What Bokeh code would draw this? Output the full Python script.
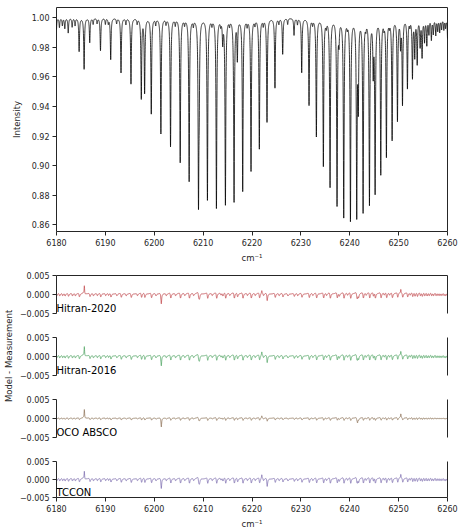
import numpy as np
from bokeh.plotting import figure
from bokeh.layouts import column, row
from bokeh.models import Range1d, FixedTicker, LinearAxis, Label, CustomJSTickFormatter
from bokeh.embed import file_html
from bokeh.resources import INLINE

# ---------------- data ----------------
# strong CO2 band lines: centre (cm-1) and minimum intensity
line_pos = [6184.63, 6185.65, 6189.00, 6191.09, 6193.20, 6195.24, 6197.35, 6198.03,
            6199.39, 6201.36, 6203.33, 6205.31, 6207.14, 6209.05, 6210.88, 6212.72,
            6214.56, 6216.33, 6218.10, 6219.80, 6221.50, 6223.07, 6224.70, 6226.28,
            6230.17, 6231.67, 6233.17, 6234.60, 6235.97, 6237.40, 6238.77, 6240.14,
            6241.43, 6242.73, 6244.03, 6245.19, 6246.35, 6247.50, 6248.67, 6249.76,
            6250.79, 6251.80, 6252.83, 6253.80, 6254.80, 6255.77, 6256.70, 6257.60,
            6258.40, 6259.25]
line_min = [0.9775, 0.9655, 0.9780, 0.9720, 0.9630, 0.9555, 0.9460, 0.9500,
            0.9355, 0.9220, 0.9134, 0.9027, 0.8900, 0.8810, 0.8775, 0.8720,
            0.8745, 0.8765, 0.8835, 0.8970, 0.9120, 0.9300, 0.9530, 0.9758,
            0.9634, 0.9414, 0.9204, 0.9006, 0.8865, 0.8744, 0.8663, 0.8640,
            0.8690, 0.8700, 0.8753, 0.8838, 0.8955, 0.9073, 0.9185, 0.9316,
            0.9428, 0.9533, 0.9605, 0.9700, 0.9747, 0.9825, 0.9860, 0.9890,
            0.9910, 0.9926]
# weak lines (hot bands / isotopologues)
weak_pos = [6179.95, 6180.60, 6181.20, 6181.70, 6182.40, 6183.20, 6183.80, 6186.80,
            6187.50, 6188.30, 6190.00, 6190.60, 6192.30, 6194.20, 6196.50, 6200.30,
            6202.40, 6204.30, 6206.20, 6208.00, 6209.20, 6211.80, 6213.60, 6214.00,
            6215.40, 6217.00, 6219.00, 6220.60, 6222.30, 6225.50, 6227.30, 6228.60,
            6229.30, 6232.40, 6235.20, 6237.80, 6239.50, 6241.75, 6243.30, 6244.80,
            6247.00, 6248.10, 6250.40, 6252.30, 6253.30, 6254.40, 6255.30, 6256.20,
            6257.10, 6258.00, 6258.80, 6259.60, 6260.05]
weak_min = [0.9900, 0.9937, 0.9950, 0.9930, 0.9900, 0.9940, 0.9950, 0.9835,
            0.9960, 0.9965, 0.9960, 0.9965, 0.9965, 0.9960, 0.9965, 0.9960,
            0.9965, 0.9960, 0.9965, 0.9960, 0.9580, 0.9965, 0.9965, 0.9850,
            0.9965, 0.9735, 0.9960, 0.9965, 0.9960, 0.9965, 0.9960, 0.9886,
            0.9960, 0.9965, 0.9960, 0.9870, 0.9965, 0.9450, 0.9960, 0.9660,
            0.9960, 0.9965, 0.9825, 0.9960, 0.9750, 0.9820, 0.9850, 0.9900,
            0.9900, 0.9920, 0.9930, 0.9940, 0.9825]

# isolated residual features (position, amplitude per model)
spike_pos = [6185.70, 6201.45, 6222.00, 6223.10, 6241.60, 6250.45]
spike_h2020 = [0.0030, -0.0016, 0.0008, -0.0008, -0.0008, 0.0017]
spike_h2016 = [0.0033, -0.0016, 0.0010, -0.0008, -0.0006, 0.0017]
spike_oco = [0.0027, -0.0018, 0.0006, -0.0003, -0.0010, 0.0014]
spike_tccon = [0.0030, -0.0016, 0.0011, -0.0011, -0.0006, 0.0018]

model_names = ["Hitran-2020", "Hitran-2016", "OCO ABSCO", "TCCON"]
model_colors = ["#C44E52", "#55A868", "#937860", "#8172B3"]
model_sym = [-0.0013, -0.0013, -0.0006, -0.0013]     # symmetric (depth) misfit
model_asym = [0.0009, 0.0009, 0.0005, 0.0010]       # antisymmetric (position) misfit

x_ticks = [6180, 6190, 6200, 6210, 6220, 6230, 6240, 6250, 6260]
y_ticks = [0.86, 0.88, 0.90, 0.92, 0.94, 0.96, 0.98, 1.00]
r_ticks = [-0.005, 0.0, 0.005]

# ---------------- spectrum from the line list ----------------
GAM = 0.09
nu = np.arange(6180.0, 6260.0001, 0.01)
all_pos = np.array(line_pos + weak_pos)
all_tau = -np.log(np.array(line_min + weak_min))
tau = np.zeros_like(nu)
for c, t in zip(all_pos, all_tau):
    tau += t * GAM**2 / ((nu - c) ** 2 + GAM**2)
intensity = np.exp(-tau)

# ---------------- residual shapes from the same line list ----------------
GR = 0.18
nur = np.arange(6180.0, 6260.0001, 0.02)
sym_sum = np.zeros_like(nur)
asym_sum = np.zeros_like(nur)
for c, t in zip(all_pos, all_tau):
    d = nur - c
    w = t ** 0.25
    sym_sum += w * 2.0 * (GR**2 / (d**2 + GR**2) - 0.5 * (2 * GR) ** 2 / (d**2 + (2 * GR) ** 2))
    asym_sum += w * (-2.0 * d * GR**3 / (d**2 + GR**2) ** 2) / 0.6495

spikes = [spike_h2020, spike_h2016, spike_oco, spike_tccon]
residuals = []
for k in range(4):
    r = model_sym[k] * sym_sum + model_asym[k] * asym_sum
    for c, a in zip(spike_pos, spikes[k]):
        r += a * 0.07**2 / ((nur - c) ** 2 + 0.07**2)
    residuals.append(r)

# ---------------- styling helpers ----------------
FONT = "DejaVu Sans"
AX = "#262626"
xr = Range1d(6180, 6260)


def style_axis(ax, fs="8px"):
    ax.major_label_text_font = FONT
    ax.major_label_text_font_size = fs
    ax.major_label_text_color = AX
    ax.axis_label_text_font = FONT
    ax.axis_label_text_font_size = "8.5px"
    ax.axis_label_text_font_style = "normal"
    ax.axis_label_text_color = AX
    ax.major_tick_out = 4
    ax.major_tick_in = 0
    ax.minor_tick_line_color = None
    ax.major_tick_line_color = AX
    ax.axis_line_color = AX
    ax.major_label_standoff = 3


def spine(p, where):
    ax = LinearAxis(ticker=FixedTicker(ticks=[]), axis_line_color=AX,
                    major_tick_line_color=None, minor_tick_line_color=None,
                    major_label_text_font_size="0px")
    p.add_layout(ax, where)


# ---------------- top panel ----------------
top = figure(width=463, height=265, x_range=xr, y_range=Range1d(0.85549, 1.00693),
             output_backend="svg", toolbar_location=None,
             min_border_left=56, min_border_right=16, min_border_top=7, min_border_bottom=33)
top.grid.visible = False
top.outline_line_color = AX
top.outline_line_alpha = 1.0
top.line(nu, intensity, line_color="black", line_width=0.8)
top.xaxis.ticker = FixedTicker(ticks=x_ticks)
top.yaxis.ticker = FixedTicker(ticks=y_ticks)
top.yaxis.formatter = CustomJSTickFormatter(code="return tick.toFixed(2);")
top.xaxis.axis_label = "cm\u207b\u00b9"
top.yaxis.axis_label = "Intensity"
for ax in top.axis:
    style_axis(ax)
    ax.axis_line_color = None
top.yaxis.axis_label_standoff = 7
top.xaxis.axis_label_standoff = 4
top.add_layout(Label(x=6220.3, y=1.0096, text="Weaker CO\u2082 window", text_align="center",
                     text_baseline="alphabetic", text_font=FONT, text_font_size="10px",
                     text_color="black"))

# ---------------- residual panels ----------------
panels = []
for k in range(4):
    last = k == 3
    p = figure(width=450, height=80 if last else 62, x_range=xr, y_range=Range1d(-0.005, 0.005),
               output_backend="svg", toolbar_location=None,
               x_axis_location="below" if last else None,
               min_border_left=43, min_border_right=16, min_border_top=10,
               min_border_bottom=32 if last else 14)
    p.grid.visible = False
    p.outline_line_color = None
    p.line(nur, residuals[k], line_color=model_colors[k], line_width=0.8)
    p.yaxis.ticker = FixedTicker(ticks=r_ticks)
    p.yaxis.formatter = CustomJSTickFormatter(
        code="return tick < -1e-9 ? '\u2212' + Math.abs(tick).toFixed(3) : Math.abs(tick).toFixed(3);")
    for ax in p.axis:
        style_axis(ax)
    if last:
        p.xaxis.ticker = FixedTicker(ticks=x_ticks)
        p.xaxis.axis_label = "cm\u207b\u00b9"
        p.xaxis.axis_label_standoff = 4
    spine(p, "right")
    if k == 0:
        spine(p, "above")
    p.add_layout(Label(x=6180, y=-0.0036, text=model_names[k], text_align="left",
                       text_baseline="alphabetic", text_font=FONT, text_font_size="10px",
                       text_color="black"))
    panels.append(p)

lab = figure(width=13, height=266, x_range=Range1d(0, 1), y_range=Range1d(0, 1),
             output_backend="svg", toolbar_location=None,
             x_axis_location=None, y_axis_location=None,
             min_border_left=0, min_border_right=0, min_border_top=0, min_border_bottom=0)
lab.grid.visible = False
lab.outline_line_color = None
lab.add_layout(Label(x=0.62, y=0.66, text="Model - Measurement", angle=np.pi / 2,
                     text_align="center", text_baseline="middle", text_font=FONT,
                     text_font_size="8.5px", text_color=AX))

layout = column(top, row(lab, column(*panels)))
open("out.html", "w").write(file_html(layout, INLINE))
